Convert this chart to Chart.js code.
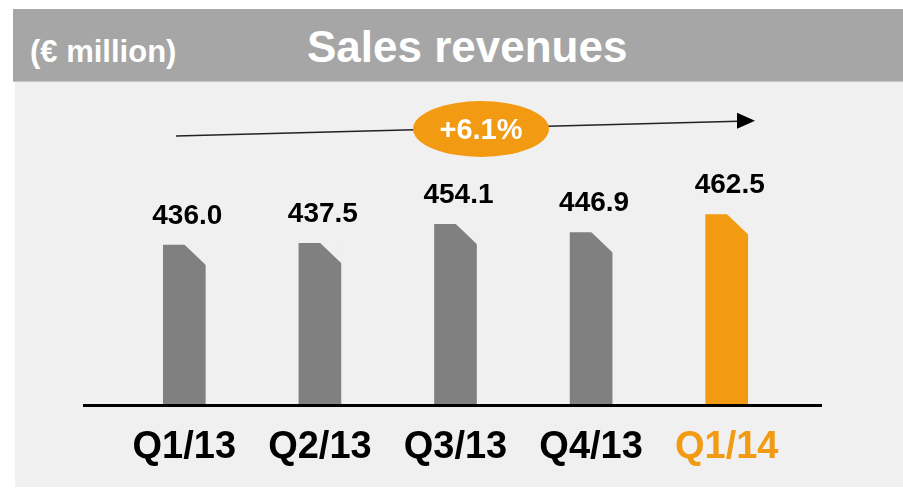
<!DOCTYPE html>
<html>
<head>
<meta charset="utf-8">
<script src="https://cdn.jsdelivr.net/npm/chart.js@4.4.0/dist/chart.umd.min.js"></script>
<style>
  html, body { margin:0; padding:0; background:#ffffff; width:903px; height:488px; overflow:hidden; }
  #hdr { position:absolute; left:13px; top:9px; width:890px; height:72px; background:#a6a6a6; border-bottom:1px solid #c4c4c4; }
  #panel { position:absolute; left:15px; top:82px; width:888px; height:405px; background:#f0f0f0; }
  .t { position:absolute; color:#ffffff; font-family:"Liberation Sans", Arial, sans-serif; font-weight:bold; white-space:nowrap; }
  #unit { left:30px; top:36px; font-size:31px; line-height:31px; }
  #title { left:307px; top:25px; font-size:44px; line-height:44px; }
  #c { position:absolute; left:0; top:0; }
</style>
</head>
<body>
<div id="hdr"></div>
<div id="panel"></div>
<div class="t" id="unit">(€ million)</div>
<div class="t" id="title">Sales revenues</div>
<canvas id="c" width="903" height="488"></canvas>
<script>
const categories = ["Q1/13", "Q2/13", "Q3/13", "Q4/13", "Q1/14"];
const revenues = [436.0, 437.5, 454.1, 446.9, 462.5];
const valueLabels = ["436.0", "437.5", "454.1", "446.9", "462.5"];
const growthLabel = "+6.1%";

const GRAY = "#808080", ORANGE = "#F39A13", PANEL = "#f0f0f0";
const FONT = '"Liberation Sans", Arial, sans-serif';

const decor = {
  id: "decor",
  afterDatasetsDraw(chart) {
    const ctx = chart.ctx;
    const meta = chart.getDatasetMeta(0);
    const yScale = chart.scales.y;
    const base = yScale.getPixelForValue(yScale.min);
    ctx.save();
    meta.data.forEach((bar, i) => {
      const w = bar.width;
      const right = bar.x + w / 2, top = bar.y;
      // chamfered top-right corner
      ctx.fillStyle = PANEL;
      ctx.beginPath();
      ctx.moveTo(bar.x - 0.5, top - 1);
      ctx.lineTo(right + 1, top - 1);
      ctx.lineTo(right + 1, top + 20.5);
      ctx.closePath();
      ctx.fill();
      // value label
      ctx.fillStyle = "#000000";
      ctx.font = "bold 28px " + FONT;
      ctx.textAlign = "center";
      ctx.textBaseline = "middle";
      ctx.fillText(valueLabels[i], bar.x + 3, top - 29);
    });
    // baseline
    ctx.strokeStyle = "#000000";
    ctx.lineWidth = 3;
    ctx.beginPath();
    ctx.moveTo(83, base + 0.5);
    ctx.lineTo(822, base + 0.5);
    ctx.stroke();
    // trend arrow
    ctx.strokeStyle = "#222222";
    ctx.lineWidth = 1.5;
    ctx.beginPath();
    ctx.moveTo(176, 136);
    ctx.lineTo(738, 121.3);
    ctx.stroke();
    ctx.fillStyle = "#000000";
    ctx.beginPath();
    ctx.moveTo(755, 120.8);
    ctx.lineTo(737, 112.8);
    ctx.lineTo(737, 128.8);
    ctx.closePath();
    ctx.fill();
    // growth badge
    ctx.fillStyle = ORANGE;
    ctx.beginPath();
    ctx.ellipse(481, 129, 68, 28, 0, 0, Math.PI * 2);
    ctx.fill();
    ctx.fillStyle = "#ffffff";
    ctx.font = "bold 29px " + FONT;
    ctx.textAlign = "center";
    ctx.textBaseline = "middle";
    ctx.fillText(growthLabel, 481, 131);
    ctx.restore();
  }
};

new Chart(document.getElementById("c"), {
  type: "bar",
  data: {
    labels: categories,
    datasets: [{
      data: revenues,
      backgroundColor: revenues.map((v, i) => i === revenues.length - 1 ? ORANGE : GRAY),
      borderWidth: 0,
      barThickness: 42
    }]
  },
  options: {
    responsive: false,
    animation: false,
    devicePixelRatio: 1,
    layout: { padding: { left: 116.5, right: 108.5, top: 90, bottom: 0 } },
    plugins: { legend: { display: false }, tooltip: { enabled: false } },
    scales: {
      x: {
        grid: { display: false, drawTicks: false },
        border: { display: false },
        ticks: {
          padding: 20,
          color: (c) => c.index === categories.length - 1 ? ORANGE : "#000000",
          font: { family: FONT, size: 38, weight: "bold" }
        },
        afterFit(s) { s.height = 83; }
      },
      y: { display: false, min: 297.3, max: 570.5 }
    }
  },
  plugins: [decor]
});
</script>
</body>
</html>
